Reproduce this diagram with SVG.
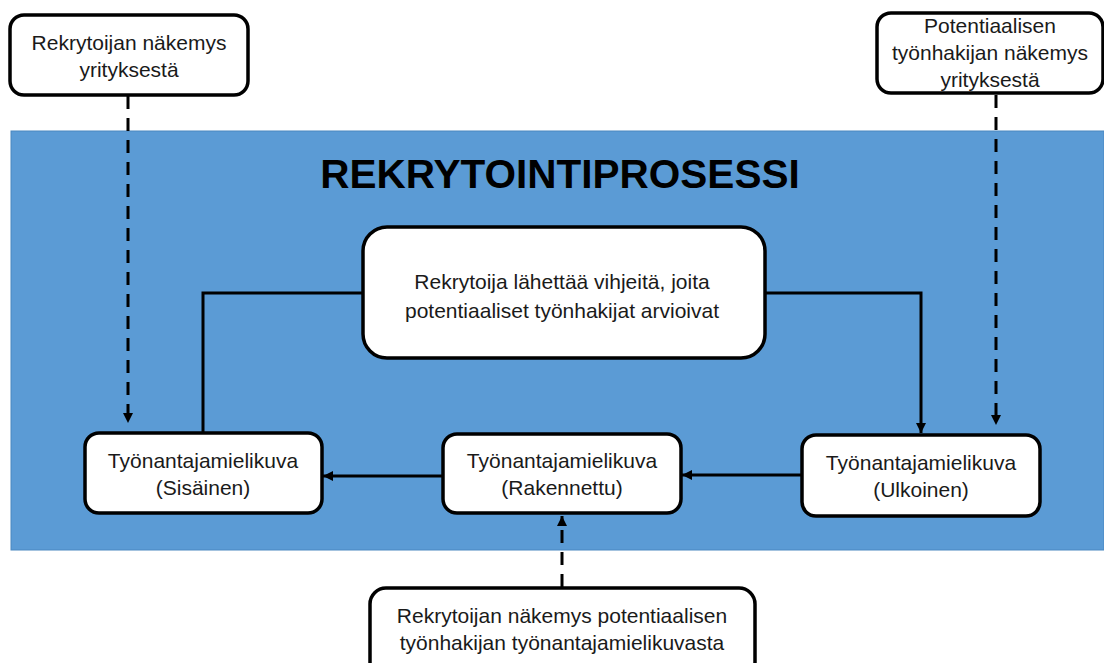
<svg xmlns="http://www.w3.org/2000/svg" width="1104" height="663" viewBox="0 0 1104 663">
  <defs>
    <marker id="arrow" viewBox="0 0 10 10" refX="10" refY="5" markerWidth="10" markerHeight="10" markerUnits="userSpaceOnUse" orient="auto">
      <path d="M0,0 L10,5 L0,10 z" fill="#000"/>
    </marker>
    <style>
      .box { fill: #fff; stroke: #000; stroke-width: 3.5; }
      .lbl { font-family: "Liberation Sans", Arial, sans-serif; font-size: 21px; fill: #1a1a1a; text-anchor: middle; }
      .title { font-family: "Liberation Sans", Arial, sans-serif; font-size: 40.5px; font-weight: bold; fill: #000; text-anchor: middle; }
      .solid { fill: none; stroke: #000; stroke-width: 3; }
      .dash { fill: none; stroke: #000; stroke-width: 3; stroke-dasharray: 13 9; }
    </style>
  </defs>

  <rect width="1104" height="663" fill="#fff"/>

  <!-- process area -->
  <g id="process">
    <rect x="11" y="131" width="1093" height="419" fill="#5b9bd5" stroke="#4a87c0" stroke-width="1"/>
    <text class="title" x="560" y="188">REKRYTOINTIPROSESSI</text>
  </g>

  <!-- connectors -->
  <g id="connectors">
    <path class="dash" d="M128,96 V423" marker-end="url(#arrow)"/>
    <path class="dash" d="M996,95 V425" marker-end="url(#arrow)"/>
    <path class="dash" d="M562,587 V516" marker-end="url(#arrow)"/>
    <path class="solid" d="M363,293 H203 V433"/>
    <path class="solid" d="M765,293 H921 V433" marker-end="url(#arrow)"/>
    <path class="solid" d="M802,475 H682" marker-end="url(#arrow)"/>
    <path class="solid" d="M443,476 H323" marker-end="url(#arrow)"/>
  </g>

  <g id="recruiter-view">
    <rect class="box" x="10" y="15" width="238" height="80" rx="14"/>
    <text class="lbl" x="129" y="50">Rekrytoijan näkemys</text>
    <text class="lbl" x="129" y="77">yrityksestä</text>
  </g>

  <g id="applicant-view">
    <rect class="box" x="877" y="13" width="226" height="80" rx="14"/>
    <text class="lbl" x="990" y="33">Potentiaalisen</text>
    <text class="lbl" x="990" y="60">työnhakijan näkemys</text>
    <text class="lbl" x="990" y="87">yrityksestä</text>
  </g>

  <g id="signals">
    <rect class="box" x="363" y="227" width="402" height="131" rx="24"/>
    <text class="lbl" x="562" y="289">Rekrytoija lähettää vihjeitä, joita</text>
    <text class="lbl" x="562" y="318">potentiaaliset työnhakijat arvioivat</text>
  </g>

  <g id="image-internal">
    <rect class="box" x="85" y="433" width="237" height="80" rx="14"/>
    <text class="lbl" x="203" y="468">Työnantajamielikuva</text>
    <text class="lbl" x="203" y="495">(Sisäinen)</text>
  </g>

  <g id="image-constructed">
    <rect class="box" x="443" y="434" width="238" height="79" rx="14"/>
    <text class="lbl" x="562" y="468">Työnantajamielikuva</text>
    <text class="lbl" x="562" y="495">(Rakennettu)</text>
  </g>

  <g id="image-external">
    <rect class="box" x="802" y="435" width="238" height="81" rx="14"/>
    <text class="lbl" x="921" y="470">Työnantajamielikuva</text>
    <text class="lbl" x="921" y="497">(Ulkoinen)</text>
  </g>

  <g id="recruiter-on-applicant">
    <rect class="box" x="370" y="588" width="385" height="90" rx="16"/>
    <text class="lbl" x="562" y="623">Rekrytoijan näkemys potentiaalisen</text>
    <text class="lbl" x="562" y="650">työnhakijan työnantajamielikuvasta</text>
  </g>
</svg>
